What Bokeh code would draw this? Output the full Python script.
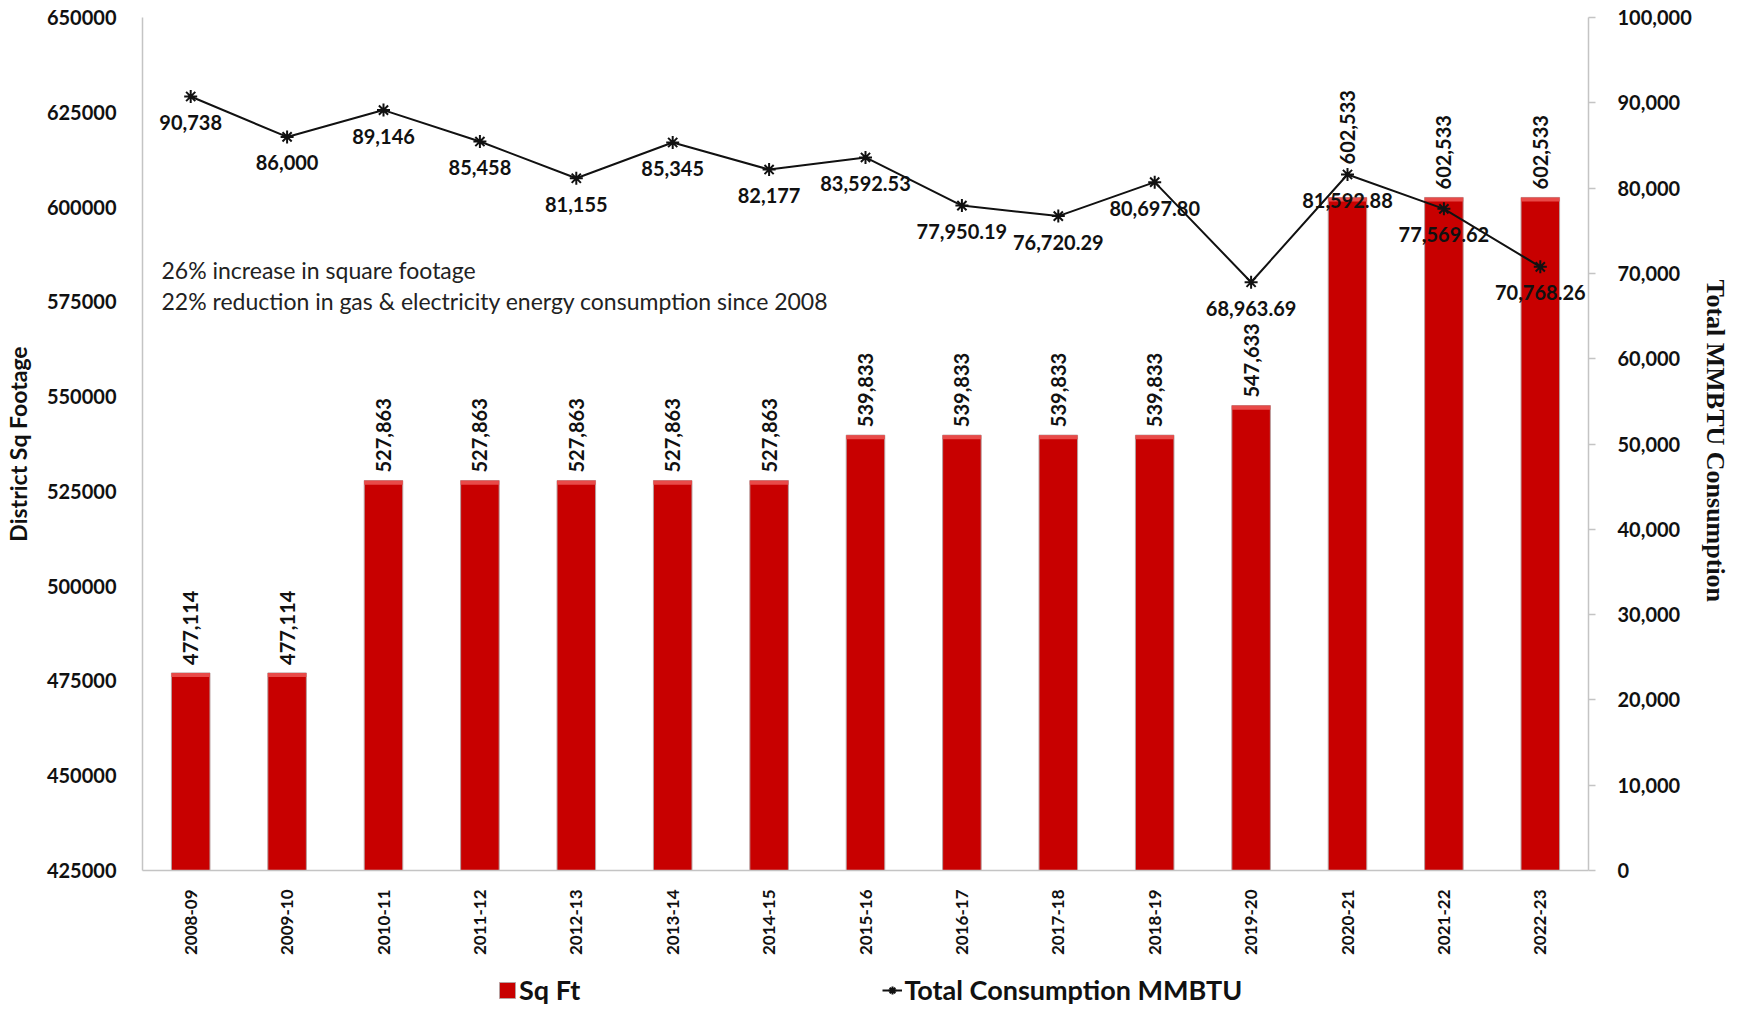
import math
from bokeh.plotting import figure
from bokeh.layouts import column
from bokeh.models import (Range1d, LinearAxis, FactorRange, Legend, LegendItem, Label,
                          BasicTickFormatter, NumeralTickFormatter, FixedTicker, ColumnDataSource)
from bokeh.core.properties import value
from bokeh.embed import file_html
from bokeh.resources import INLINE

years = ["2008-09", "2009-10", "2010-11", "2011-12", "2012-13", "2013-14", "2014-15",
         "2015-16", "2016-17", "2017-18", "2018-19", "2019-20", "2020-21", "2021-22", "2022-23"]
sq_ft = [477114, 477114, 527863, 527863, 527863, 527863, 527863,
         539833, 539833, 539833, 539833, 547633, 602533, 602533, 602533]
mmbtu = [90738, 86000, 89146, 85458, 81155, 85345, 82177,
         83592.53, 77950.19, 76720.29, 80697.80, 68963.69, 81592.88, 77569.62, 70768.26]
left_ticks = [425000, 450000, 475000, 500000, 525000, 550000, 575000, 600000, 625000, 650000]
right_ticks = [0, 10000, 20000, 30000, 40000, 50000, 60000, 70000, 80000, 90000, 100000]
notes = ["26% increase in square footage",
         "22% reduction in gas & electricity energy consumption since 2008"]
series_names = ["Sq Ft", "Total Consumption MMBTU"]

def fmt(v):
    return f"{v:,.0f}" if float(v).is_integer() else f"{v:,.2f}"

FONT = "Lato"
BAR = "#C80000"
INK = "#111111"
W = 1737
H_MAIN, H_LEG = 965, 45

# label placement (style): bar labels sit 8px above the bar, one is lifted clear of the line marker
bar_label_offsets = [-8] * len(years)
bar_label_offsets[years.index("2020-21")] = -33


def add_ranges(fig):
    fig.extra_y_ranges = {"right": Range1d(right_ticks[0], right_ticks[-1])}


p = figure(width=W, height=H_MAIN, output_backend="svg", toolbar_location=None,
           x_range=FactorRange(*years), y_range=Range1d(left_ticks[0], left_ticks[-1]),
           min_border_left=136, min_border_right=149, min_border_top=17, min_border_bottom=95)
add_ranges(p)
p.outline_line_color = None
p.xgrid.visible = False
p.ygrid.visible = False

bar_src = ColumnDataSource(dict(x=years, top=sq_ft, lab=[fmt(v) for v in sq_ft],
                                hl=[v - 1100 for v in sq_ft], off=bar_label_offsets))
p.vbar(x="x", top="top", bottom=left_ticks[0], width=0.4, source=bar_src,
       fill_color=BAR, line_color="#b8a0a0", line_width=1)
p.vbar(x="x", top="top", bottom="hl", width=0.4, source=bar_src,
       fill_color="#E84A48", line_color=None)
p.text(x="x", y="top", text="lab", source=bar_src, angle=math.pi / 2,
       text_align="left", text_baseline="middle", y_offset="off",
       text_font=value(FONT), text_font_style="bold", text_font_size="20px", text_color=INK)

line_src = ColumnDataSource(dict(x=years, y=mmbtu, lab=[fmt(v) for v in mmbtu]))
p.line(x="x", y="y", source=line_src, y_range_name="right", line_color=INK, line_width=2)
p.scatter(x="x", y="y", source=line_src, y_range_name="right", marker="asterisk",
          size=13, line_color=INK, line_width=2)
p.text(x="x", y="y", text="lab", source=line_src, y_range_name="right",
       text_align="center", text_baseline="middle", y_offset=26,
       text_font=value(FONT), text_font_style="bold", text_font_size="20px", text_color=INK)

# left axis
ya = p.yaxis[0]
ya.ticker = FixedTicker(ticks=left_ticks)
ya.formatter = BasicTickFormatter(use_scientific=False)
ya.axis_line_color = "#c4c4c4"
ya.axis_line_width = 1.5
ya.major_tick_line_color = None
ya.minor_tick_line_color = None
ya.major_label_standoff = 20
ya.major_label_text_font = FONT
ya.major_label_text_font_style = "bold"
ya.major_label_text_font_size = "20px"
ya.major_label_text_color = INK
ya.axis_label = "District Sq Footage"
ya.axis_label_text_font = FONT
ya.axis_label_text_font_style = "bold"
ya.axis_label_text_font_size = "23px"
ya.axis_label_text_color = INK
ya.axis_label_standoff = 12

# right axis
ra = LinearAxis(y_range_name="right", ticker=FixedTicker(ticks=right_ticks),
                formatter=NumeralTickFormatter(format="0,0"))
ra.axis_line_color = "#c4c4c4"
ra.axis_line_width = 1.5
ra.major_tick_line_color = "#c4c4c4"
ra.major_tick_line_width = 1.5
ra.major_tick_in = 0
ra.major_tick_out = 7
ra.minor_tick_line_color = None
ra.major_label_standoff = 22
ra.major_label_text_font = FONT
ra.major_label_text_font_style = "bold"
ra.major_label_text_font_size = "20px"
ra.major_label_text_color = INK
ra.axis_label = "Total  MMBTU Consumption"
ra.axis_label_text_font = "Liberation Serif"
ra.axis_label_text_font_style = "bold"
ra.axis_label_text_font_size = "26px"
ra.axis_label_text_color = INK
ra.axis_label_standoff = 6
p.add_layout(ra, "right")

# bottom axis
xa = p.xaxis[0]
xa.axis_line_color = "#c4c4c4"
xa.axis_line_width = 1.5
xa.major_tick_line_color = None
xa.minor_tick_line_color = None
xa.major_label_orientation = math.pi / 2
xa.major_label_standoff = 13
xa.major_label_text_font = FONT
xa.major_label_text_font_style = "bold"
xa.major_label_text_font_size = "17px"
xa.major_label_text_color = INK

# annotation notes
for i, t in enumerate(notes):
    p.add_layout(Label(x=19, y=601 - 31 * i, x_units="screen", y_units="screen", text=t,
                       text_font=FONT, text_font_size="23px", text_color="#222222",
                       text_baseline="middle", text_align="left"))

# legend strip: a second figure whose (hidden) renderers share the chart's sources
lf = figure(width=W, height=H_LEG, output_backend="svg", toolbar_location=None,
            x_range=FactorRange(*years), y_range=Range1d(left_ticks[0], left_ticks[-1]),
            x_axis_type=None, y_axis_type=None, min_border=0, outline_line_color=None)
add_ranges(lf)
lf.xgrid.visible = False
lf.ygrid.visible = False
r_bar = lf.vbar(x="x", top="top", bottom=left_ticks[0], width=0.4, source=bar_src,
                fill_color=BAR, line_color="#b8a0a0", visible=False)
r_ln = lf.line(x="x", y="y", source=line_src, y_range_name="right", line_color=INK,
               line_width=2, visible=False)
r_mk = lf.scatter(x="x", y="y", source=line_src, y_range_name="right", marker="asterisk",
                  size=13, line_color=INK, line_width=2, visible=False)
legend = Legend(items=[LegendItem(label=series_names[0], renderers=[r_bar]),
                       LegendItem(label=series_names[1], renderers=[r_ln, r_mk])],
                orientation="horizontal", location=(355, 4),
                border_line_color=None, background_fill_alpha=0,
                padding=0, margin=0, spacing=302, glyph_width=20, glyph_height=20,
                label_text_font=FONT, label_text_font_style="bold", label_text_font_size="27px",
                label_text_color=INK, label_standoff=2, label_height=30)
lf.add_layout(legend, "center")

open("out.html", "w").write(file_html(column(p, lf, spacing=0), INLINE))
